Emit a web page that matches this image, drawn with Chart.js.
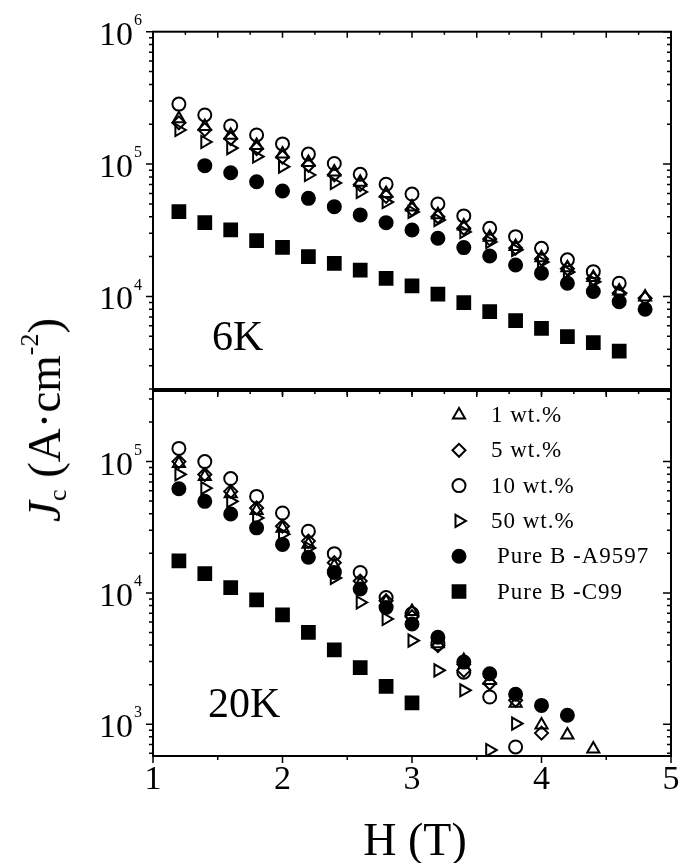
<!DOCTYPE html>
<html>
<head>
<meta charset="utf-8">
<script src="https://cdn.jsdelivr.net/npm/chart.js"></script>
<style>
html,body{margin:0;padding:0;background:#fff;}
#wrap{position:relative;width:682px;height:863px;overflow:hidden;background:#fff;}
canvas{position:absolute;left:0;}
#c1{top:0;}
#c2{top:380px;}
.ttl{position:absolute;font-family:'Liberation Serif','Times New Roman',serif;color:#000;white-space:nowrap;line-height:1;z-index:5;}
#ytitle{left:44px;top:420px;font-size:47px;transform:translate(-50%,-50%) rotate(-90deg);}
#ytitle sub{font-size:26px;vertical-align:-6px;}
#ytitle sup{font-size:26px;vertical-align:22px;}
#xtitle{left:415px;top:840px;font-size:46px;transform:translate(-50%,-50%);}
</style>
</head>
<body>
<div id="wrap">
<canvas id="c1" width="682" height="400"></canvas>
<canvas id="c2" width="682" height="483"></canvas>
<div class="ttl" id="ytitle"><i>J</i><sub>c</sub> (A·cm<sup>-2</sup>)</div>
<div class="ttl" id="xtitle">H (T)</div>
</div>
<script>
// ---- data ----
const H = [1.2,1.4,1.6,1.8,2.0,2.2,2.4,2.6,2.8,3.0,3.2,3.4,3.6,3.8,4.0,4.2,4.4,4.6,4.8];
const seriesLabels = ['1 wt.%','5 wt.%','10 wt.%','50 wt.%','Pure B -A9597','Pure B -C99'];

// 6 K panel
const jc6K_1wt   = [220000,192000,165000,138000,119000,103000,87000,73000,60000,47500,41500,34000,28000,23800,19600,16500,13900,11000,9900];
const jc6K_5wt   = [205000,182000,156000,131000,113000,98000,83000,70000,57000,45500,40000,32800,27200,23200,19200,16200,13600,10600,9700];
const jc6K_10wt  = [284000,235000,194000,166000,142000,119000,101000,83700,70400,59400,50000,40600,32700,28300,23100,18900,15400,12600,null];
const jc6K_50wt  = [181000,147000,132000,114000,95600,82700,72000,61600,51700,43500,37800,30700,25800,22500,18200,15300,12900,10600,null];
const jc6K_A9597 = [null,97300,86100,73600,62600,55100,47700,41300,36100,31800,27500,23400,20200,17300,15000,12600,10900,9140,8000];
const jc6K_C99   = [43700,36100,31800,26400,23500,20000,17800,15800,13700,12000,10400,8980,7680,6560,5750,4970,4480,3870,null];

// 20 K panel
const jc20K_1wt   = [96600,77000,57000,42500,31000,23500,16000,11700,8550,7200,4100,3050,2150,1440,984,826,647,null,null];
const jc20K_5wt   = [100000,79700,59300,44300,32200,24800,17000,12300,8700,6580,3970,2570,2050,1520,855,null,null,null,null];
const jc20K_10wt  = [126000,100000,74300,54300,40600,29500,19900,14300,9220,6940,4110,2490,1610,670,null,null,null,null,null];
const jc20K_50wt  = [80000,62800,49800,37200,28000,22000,13000,8450,6330,4330,2570,1810,635,1010,null,null,null,null,null];
const jc20K_A9597 = [62100,49800,39900,31300,23400,18700,14300,10700,7740,5790,4590,2970,2420,1690,1390,1170,null,null,null];
const jc20K_C99   = [17500,14000,10980,8850,6810,5010,3680,2690,1940,1450,null,null,null,null,null,null,null,null,null];

// axis ranges and tick labels
const xRange = [1, 5];
const xTickLabels = [1, 2, 3, 4, 5];
const yRange6K = [2000, 1e6];
const yRange20K = [572, 3.45e5];
const yDecades6K = [4, 5, 6];
const yDecades20K = [3, 4, 5];
const panelLabels = ['6K', '20K'];

// ---- styles ----
const serif = "'Liberation Serif','Times New Roman',serif";
const markerStyles = [
  {pointStyle:'triangle', radius:7,   rotation:0,  fill:'rgba(0,0,0,0)', order:5},
  {pointStyle:'rectRot',  radius:6.5, rotation:0,  fill:'rgba(0,0,0,0)', order:4},
  {pointStyle:'circle',   radius:6.5, rotation:0,  fill:'rgba(0,0,0,0)', order:3},
  {pointStyle:'triangle', radius:7,   rotation:90, fill:'rgba(0,0,0,0)', order:6},
  {pointStyle:'circle',   radius:6.5, rotation:0,  fill:'#000', order:2},
  {pointStyle:'rect',     radius:9,   rotation:0,  fill:'#000', order:1}
];
const markerLine = 2;

function pts(arr){
  return H.map((h,i)=> arr[i]==null ? null : {x:h, y:arr[i]}).filter(Boolean);
}
function makeDatasets(list){
  return list.map((arr,i)=>{
    const s = markerStyles[i];
    return {
      label: seriesLabels[i],
      data: pts(arr),
      showLine:false,
      pointStyle:s.pointStyle,
      pointRadius:s.radius,
      pointHoverRadius:s.radius,
      pointRotation:s.rotation,
      pointBackgroundColor:s.fill,
      pointBorderColor:'#000',
      pointBorderWidth:markerLine,
      order:s.order
    };
  });
}

function drawMarker(ctx, s, x, y){
  ctx.save();
  ctx.fillStyle = s.fill; ctx.strokeStyle = '#000'; ctx.lineWidth = markerLine;
  if (Chart.helpers && Chart.helpers.drawPoint) {
    Chart.helpers.drawPoint(ctx, {pointStyle:s.pointStyle, radius:s.radius, rotation:s.rotation, borderWidth:markerLine}, x, y);
  } else {
    ctx.beginPath(); ctx.arc(x,y,s.radius,0,Math.PI*2); ctx.fill(); ctx.stroke();
  }
  ctx.restore();
}

const framePlugin = {
  id:'frame',
  afterDatasetsDraw(chart, args, opts){
    const ctx = chart.ctx, a = chart.chartArea, xs = chart.scales.x, ys = chart.scales.y;
    ctx.save();
    ctx.strokeStyle = '#000'; ctx.fillStyle = '#000';
    ctx.lineWidth = 2;
    ctx.strokeRect(a.left, a.top, a.right - a.left, a.bottom - a.top);
    ctx.lineWidth = 1.5;
    ctx.beginPath();
    for (let k = 0; k <= 16; k++) {
      const v = xRange[0] + k * 0.25, px = xs.getPixelForValue(v);
      const isInt = k % 4 === 0, isHalf = k % 2 === 0;
      if (opts.topTicks && k > 0 && k < 16) {
        const len = isHalf ? 6 : 3;
        ctx.moveTo(px, a.top); ctx.lineTo(px, a.top + len);
      }
      if (opts.bottomMode === 'divider' && k > 0 && k < 16) {
        const len = isHalf ? 6 : 3;
        ctx.moveTo(px, a.bottom); ctx.lineTo(px, a.bottom + len);
      }
      if (opts.bottomMode === 'axis' && isHalf) {
        const len = isInt ? 7 : 4;
        ctx.moveTo(px, a.bottom); ctx.lineTo(px, a.bottom + len);
      }
    }
    const lo = Math.floor(Math.log10(ys.min)), hi = Math.ceil(Math.log10(ys.max));
    for (let d = lo; d <= hi; d++) {
      for (let m = 1; m <= 9; m++) {
        const v = m * Math.pow(10, d);
        if (v < ys.min * 0.999 || v > ys.max * 1.001) continue;
        const py = ys.getPixelForValue(v), major = m === 1;
        ctx.moveTo(a.left, py); ctx.lineTo(a.left - (major ? 7 : 4), py);
        ctx.moveTo(a.right, py); ctx.lineTo(a.right - (major ? 8 : 4), py);
      }
    }
    ctx.stroke();

    // y decade labels
    ctx.textBaseline = 'middle';
    opts.decades.forEach(d => {
      const py = ys.getPixelForValue(Math.pow(10, d));
      ctx.font = '34px ' + serif; ctx.textAlign = 'right';
      ctx.fillText('10', a.left - 20, py + 4);
      ctx.font = '16px ' + serif; ctx.textAlign = 'left';
      ctx.fillText(String(d), a.left - 19, py - 11);
    });

    // x tick labels
    if (opts.xLabels) {
      ctx.font = '34px ' + serif; ctx.textAlign = 'center';
      xTickLabels.forEach(v => ctx.fillText(String(v), xs.getPixelForValue(v), a.bottom + 24));
    }

    // panel label
    ctx.font = '42px ' + serif; ctx.textAlign = 'left'; ctx.textBaseline = 'alphabetic';
    ctx.fillText(opts.panelLabel, opts.labelX, opts.labelY);

    // legend
    if (opts.legend) {
      const L = opts.legend;
      chart.data.datasets.forEach((ds, i) => {
        const y = L.y0 + i * L.dy;
        drawMarker(ctx, markerStyles[i], L.markerX, y);
        ctx.fillStyle = '#000';
        ctx.font = '23px ' + serif; ctx.textAlign = 'left'; ctx.textBaseline = 'middle';
        try { ctx.letterSpacing = '1px'; } catch (e) {}
        const tx = ds.label.startsWith('Pure') ? L.textX2 : L.textX;
        ctx.fillText(ds.label, tx, y + 1);
        try { ctx.letterSpacing = '0px'; } catch (e) {}
      });
    }
    ctx.restore();
  }
};

function makeChart(id, datasets, yRange, pad, frameOpts){
  return new Chart(document.getElementById(id), {
    type:'scatter',
    data:{datasets},
    options:{
      responsive:false,
      animation:false,
      events:[],
      layout:{padding:pad},
      plugins:{legend:{display:false}, tooltip:{enabled:false}, frame:frameOpts},
      scales:{
        x:{type:'linear', min:xRange[0], max:xRange[1], display:false},
        y:{type:'logarithmic', min:yRange[0], max:yRange[1], display:false}
      }
    },
    plugins:[framePlugin]
  });
}

makeChart('c1',
  makeDatasets([jc6K_1wt, jc6K_5wt, jc6K_10wt, jc6K_50wt, jc6K_A9597, jc6K_C99]),
  yRange6K,
  {left:153, right:7, top:31.7, bottom:11},
  {topTicks:true, bottomMode:'divider', decades:yDecades6K, xLabels:false,
   panelLabel:panelLabels[0], labelX:212, labelY:350});

makeChart('c2',
  makeDatasets([jc20K_1wt, jc20K_5wt, jc20K_10wt, jc20K_50wt, jc20K_A9597, jc20K_C99]),
  yRange20K,
  {left:153, right:7, top:9, bottom:107},
  {topTicks:true, bottomMode:'axis', decades:yDecades20K, xLabels:true,
   panelLabel:panelLabels[1], labelX:208, labelY:337,
   legend:{markerX:459, textX:491, textX2:497, y0:35, dy:35.3}});
</script>
</body>
</html>
